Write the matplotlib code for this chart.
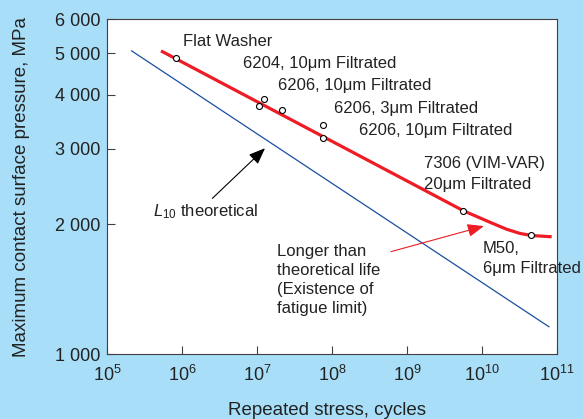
import matplotlib
matplotlib.use("Agg")
import matplotlib.pyplot as plt
from matplotlib.ticker import FixedLocator, NullLocator

plt.rcParams["font.family"] = ["Liberation Sans", "DejaVu Sans"]
plt.rcParams["mathtext.fontset"] = "custom"
plt.rcParams["mathtext.rm"] = "Liberation Sans"
plt.rcParams["mathtext.it"] = "Liberation Sans:italic"
plt.rcParams["mathtext.default"] = "regular"

# measured test points (cycles, MPa)
test_cycles = [8.3e5, 1.05e7, 1.24e7, 2.15e7, 7.66e7, 7.66e7, 5.64e9, 4.55e10]
test_pressure = [4860, 3767, 3905, 3698, 3405, 3170, 2152, 1889]

trend_cycles = [5.25e5, 5.64e9, 1.28e10, 2.13e10, 3.21e10, 4.55e10, 8.5e10]
trend_pressure = [5060, 2152, 2023, 1949, 1906, 1885, 1872]

# L10 theoretical line (blue)
theory_cycles = [2.13e5, 7.8e10]
theory_pressure = [5060, 1157]

x_ticks = [1e5, 1e6, 1e7, 1e8, 1e9, 1e10, 1e11]
x_labels = ["$10^{5}$", "$10^{6}$", "$10^{7}$", "$10^{8}$", "$10^{9}$", "$10^{10}$", "$10^{11}$"]
y_ticks = [1000, 2000, 3000, 4000, 5000, 6000]
y_labels = ["1 000", "2 000", "3 000", "4 000", "5 000", "6 000"]

bg = "#A8DEF8"
red = "#EE1C25"
blue = "#1A4FA0"
spine = "#404040"

fig = plt.figure(figsize=(5.83, 4.19), dpi=100, facecolor=bg)
ax = fig.add_axes([0.1835, 0.1551, 0.7719, 0.7995])
ax.set_facecolor("white")

ax.plot(theory_cycles, theory_pressure, color=blue, lw=0.9)
ax.plot(trend_cycles, trend_pressure, color=red, lw=2.3, solid_capstyle="butt")
ax.plot(test_cycles, test_pressure, "o", ms=4.3, mfc="white", mec="black", mew=0.8,
        linestyle="none", zorder=5)

ax.set_xscale("log")
ax.set_yscale("log")
ax.set_xlim(1e5, 1e11)
ax.set_ylim(1000, 6000)

ax.xaxis.set_major_locator(FixedLocator(x_ticks))
ax.xaxis.set_minor_locator(NullLocator())
ax.set_xticklabels(x_labels)
ax.yaxis.set_major_locator(FixedLocator(y_ticks))
ax.yaxis.set_minor_locator(NullLocator())
ax.set_yticklabels(y_labels)

ax.tick_params(axis="both", direction="in", length=5.5, width=0.8, color=spine,
               labelsize=13, labelcolor="#222222")
ax.tick_params(axis="x", pad=8)
ax.tick_params(axis="y", pad=5)
for s in ax.spines.values():
    s.set_color(spine)
    s.set_linewidth(0.8)

ax.set_ylabel("Maximum contact surface pressure, MPa", fontsize=13.5, color="#222222")
ax.yaxis.set_label_coords(-0.170, 0.5)
ax.set_xlabel("Repeated stress, cycles", fontsize=13.5, color="#222222", va="baseline")
ax.xaxis.set_label_coords(0.49, -0.182)

txt = dict(fontsize=12, color="#222222", va="center", ha="left", clip_on=False)
ax.text(1.03e6, 5318, "Flat Washer", **txt)
ax.text(6.5e6, 4741, "6204, 10\u03bcm Filtrated", **txt)
ax.text(1.91e7, 4213, "6206, 10\u03bcm Filtrated", **txt)
ax.text(1.06e8, 3726, "6206, 3\u03bcm Filtrated", **txt)
ax.text(2.29e8, 3311, "6206, 10\u03bcm Filtrated", **txt)
ax.text(1.69e9, 2777, "7306 (VIM-VAR)", **txt)
ax.text(1.69e9, 2482, "20\u03bcm Filtrated", **txt)
ax.text(1.03e10, 1762, "M50,", **txt)
ax.text(1.03e10, 1584, "6\u03bcm Filtrated", **txt)
ax.text(4.1e5, 2138, "$\\mathit{L}_{10}$ theoretical", **txt)
ax.text(1.85e7, 1486, "Longer than\ntheoretical life\n(Existence of\nfatigue limit)",
        linespacing=1.35, **txt)

ax.annotate("", xy=(1.28e7, 3006), xytext=(2.54e6, 2299),
            arrowprops=dict(arrowstyle="-|>,head_length=1.0,head_width=0.4",
                            color="black", lw=0.8, shrinkA=0, shrinkB=0))
ax.annotate("", xy=(1.06e10, 1982), xytext=(6.12e8, 1729),
            arrowprops=dict(arrowstyle="-|>,head_length=1.0,head_width=0.4",
                            color=red, lw=0.8, shrinkA=0, shrinkB=0))

fig.savefig("out.png", dpi=100, facecolor=bg)
